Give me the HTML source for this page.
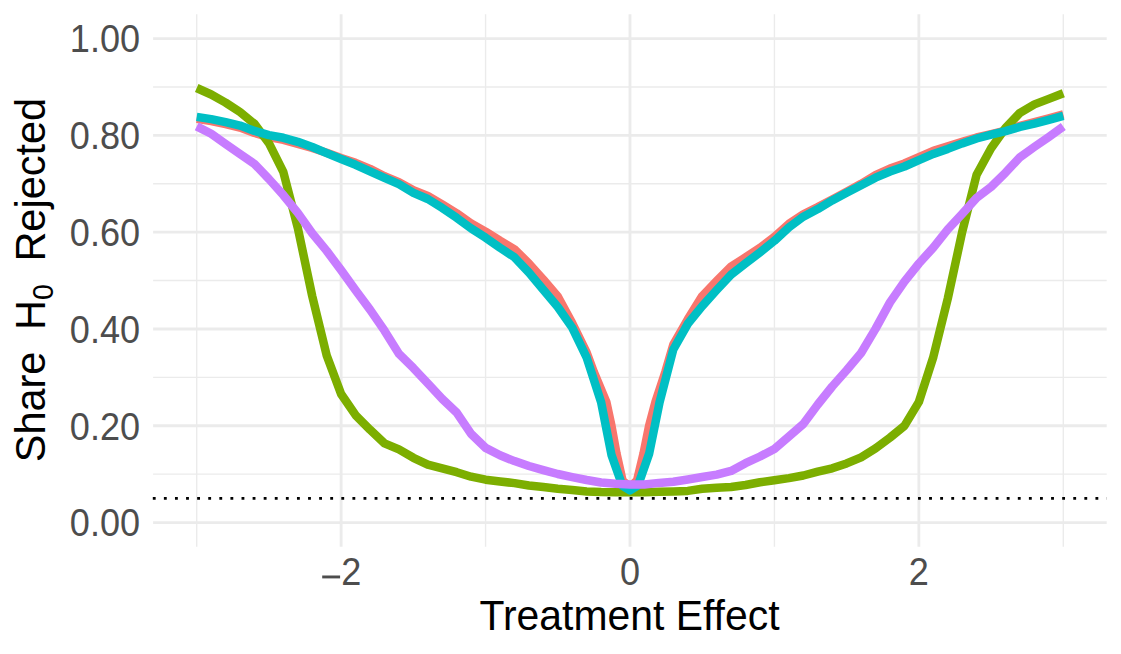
<!DOCTYPE html>
<html><head><meta charset="utf-8"><title>Chart</title>
<style>html,body{margin:0;padding:0;background:#fff;}body{width:1121px;height:654px;overflow:hidden;font-family:"Liberation Sans",sans-serif;}svg{display:block;}</style></head>
<body>
<svg width="1121" height="654" viewBox="0 0 1121 654">
<rect width="1121" height="654" fill="#ffffff"/>
<line x1="153.1" x2="1106.7" y1="474.15" y2="474.15" stroke="#EBEBEB" stroke-width="1.4"/>
<line x1="153.1" x2="1106.7" y1="377.35" y2="377.35" stroke="#EBEBEB" stroke-width="1.4"/>
<line x1="153.1" x2="1106.7" y1="280.55" y2="280.55" stroke="#EBEBEB" stroke-width="1.4"/>
<line x1="153.1" x2="1106.7" y1="183.75" y2="183.75" stroke="#EBEBEB" stroke-width="1.4"/>
<line x1="153.1" x2="1106.7" y1="86.95" y2="86.95" stroke="#EBEBEB" stroke-width="1.4"/>
<line y1="14.3" y2="546.75" x1="196.71" x2="196.71" stroke="#EBEBEB" stroke-width="1.4"/>
<line y1="14.3" y2="546.75" x1="485.57" x2="485.57" stroke="#EBEBEB" stroke-width="1.4"/>
<line y1="14.3" y2="546.75" x1="774.43" x2="774.43" stroke="#EBEBEB" stroke-width="1.4"/>
<line y1="14.3" y2="546.75" x1="1063.29" x2="1063.29" stroke="#EBEBEB" stroke-width="1.4"/>
<line x1="153.1" x2="1106.7" y1="522.55" y2="522.55" stroke="#EBEBEB" stroke-width="2.85"/>
<line x1="153.1" x2="1106.7" y1="425.75" y2="425.75" stroke="#EBEBEB" stroke-width="2.85"/>
<line x1="153.1" x2="1106.7" y1="328.95" y2="328.95" stroke="#EBEBEB" stroke-width="2.85"/>
<line x1="153.1" x2="1106.7" y1="232.15" y2="232.15" stroke="#EBEBEB" stroke-width="2.85"/>
<line x1="153.1" x2="1106.7" y1="135.35" y2="135.35" stroke="#EBEBEB" stroke-width="2.85"/>
<line x1="153.1" x2="1106.7" y1="38.55" y2="38.55" stroke="#EBEBEB" stroke-width="2.85"/>
<line y1="14.3" y2="546.75" x1="341.14" x2="341.14" stroke="#EBEBEB" stroke-width="2.85"/>
<line y1="14.3" y2="546.75" x1="630.00" x2="630.00" stroke="#EBEBEB" stroke-width="2.85"/>
<line y1="14.3" y2="546.75" x1="918.86" x2="918.86" stroke="#EBEBEB" stroke-width="2.85"/>
<path d="M196.7,118.9 L211.2,121.1 L225.6,124.1 L240.0,127.6 L254.5,132.9 L268.9,137.1 L283.4,139.8 L297.8,143.8 L312.2,148.0 L326.7,152.7 L341.1,158.0 L355.6,162.8 L370.0,168.8 L384.5,176.3 L398.9,182.1 L413.4,190.3 L427.8,196.0 L442.2,204.4 L456.7,213.3 L471.1,223.4 L485.6,231.7 L500.0,240.7 L514.5,249.3 L528.9,263.5 L543.3,279.5 L557.8,296.5 L572.2,323.0 L586.7,352.7 L593.8,372.0 L606.4,402.1 L611.5,425.9 L616.5,453.5 L622.6,480.6 L630.0,487.0 L637.1,480.2 L643.5,453.5 L649.1,425.9 L655.4,402.1 L665.3,372.0 L673.3,344.7 L687.8,319.3 L702.2,296.1 L716.7,281.0 L731.1,266.6 L745.5,257.4 L760.0,247.8 L774.4,236.8 L788.9,223.8 L803.3,214.2 L817.8,207.1 L832.2,199.4 L846.6,191.8 L861.1,183.8 L875.5,175.2 L890.0,168.5 L904.4,163.5 L918.9,157.2 L933.3,150.9 L947.8,146.4 L962.2,141.9 L976.6,137.5 L991.1,134.2 L1005.5,130.6 L1020.0,125.9 L1034.4,122.1 L1048.8,118.3 L1063.3,114.4" fill="none" stroke="#F8766D" stroke-width="8.5" stroke-linejoin="round" stroke-linecap="butt"/>
<path d="M196.7,88.0 L211.2,94.5 L225.6,102.6 L240.0,112.0 L254.5,123.9 L268.9,143.2 L283.4,172.2 L297.8,227.9 L312.2,296.0 L326.7,355.5 L341.1,394.0 L355.6,415.2 L370.0,429.7 L384.5,443.3 L398.9,449.4 L413.4,457.8 L427.8,464.6 L442.2,468.3 L456.7,472.2 L471.1,476.7 L485.6,479.7 L500.0,481.5 L514.5,483.1 L528.9,485.5 L543.3,487.0 L557.8,488.7 L572.2,490.0 L586.7,491.4 L601.1,492.1 L615.6,492.3 L630.0,492.3 L644.4,492.3 L658.9,491.8 L673.3,491.5 L687.8,490.9 L702.2,488.8 L716.7,487.7 L731.1,487.0 L745.5,485.0 L760.0,482.3 L774.4,480.2 L788.9,478.1 L803.3,475.5 L817.8,471.6 L832.2,468.3 L846.6,463.4 L861.1,457.3 L875.5,448.4 L890.0,437.6 L904.4,425.9 L918.9,401.9 L933.3,357.1 L947.8,298.5 L962.2,231.9 L976.6,174.8 L991.1,148.3 L1005.5,128.0 L1020.0,112.8 L1034.4,104.4 L1048.8,98.9 L1063.3,93.2" fill="none" stroke="#7CAE00" stroke-width="8.5" stroke-linejoin="round" stroke-linecap="butt"/>
<path d="M196.7,116.9 L211.2,119.1 L225.6,122.1 L240.0,125.6 L254.5,130.9 L268.9,135.1 L283.4,137.8 L297.8,141.8 L312.2,147.0 L326.7,153.2 L341.1,159.0 L355.6,164.8 L370.0,171.3 L384.5,177.8 L398.9,184.1 L413.4,192.8 L427.8,199.0 L442.2,207.9 L456.7,217.8 L471.1,228.4 L485.6,237.7 L500.0,247.7 L514.5,257.3 L528.9,272.5 L543.3,289.7 L557.8,307.0 L572.2,327.6 L586.7,357.7 L601.1,402.1 L611.5,455.0 L622.3,485.6 L630.0,490.4 L638.0,485.5 L649.2,453.5 L659.6,402.1 L673.3,349.5 L687.8,323.8 L702.2,306.1 L716.7,290.0 L731.1,274.6 L745.5,263.4 L760.0,252.3 L774.4,240.8 L788.9,227.3 L803.3,216.7 L817.8,209.1 L832.2,200.4 L846.6,192.8 L861.1,185.3 L875.5,177.7 L890.0,171.5 L904.4,166.5 L918.9,160.2 L933.3,153.9 L947.8,148.9 L962.2,143.4 L976.6,138.5 L991.1,134.7 L1005.5,131.1 L1020.0,126.9 L1034.4,123.6 L1048.8,119.8 L1063.3,115.9" fill="none" stroke="#00BFC4" stroke-width="8.5" stroke-linejoin="round" stroke-linecap="butt"/>
<path d="M196.7,126.4 L211.2,133.8 L225.6,143.9 L240.0,153.9 L254.5,164.0 L268.9,179.0 L283.4,195.2 L297.8,212.9 L312.2,233.3 L326.7,250.9 L341.1,270.1 L355.6,290.3 L370.0,309.6 L384.5,330.7 L398.9,353.7 L413.4,368.1 L427.8,383.4 L442.2,398.9 L456.7,412.6 L471.1,433.9 L485.6,447.9 L500.0,455.3 L514.5,461.1 L528.9,466.0 L543.3,470.1 L557.8,474.0 L572.2,477.1 L586.7,480.0 L601.1,482.5 L615.6,483.7 L630.0,484.5 L644.4,484.5 L658.9,482.9 L673.3,481.7 L687.8,479.5 L702.2,477.0 L716.7,474.6 L731.1,470.9 L745.5,463.2 L760.0,456.5 L774.4,448.9 L788.9,436.6 L803.3,424.0 L817.8,404.5 L832.2,386.5 L846.6,370.3 L861.1,353.0 L875.5,328.9 L890.0,302.4 L904.4,281.6 L918.9,263.5 L933.3,247.6 L947.8,229.3 L962.2,213.8 L976.6,197.8 L991.1,186.9 L1005.5,172.7 L1020.0,157.2 L1034.4,146.9 L1048.8,136.9 L1063.3,126.5" fill="none" stroke="#C77CFF" stroke-width="8.5" stroke-linejoin="round" stroke-linecap="butt"/>
<line x1="152.8" x2="1106.7" y1="498.4" y2="498.4" stroke="#000" stroke-width="2.85" stroke-dasharray="2.85 8.240"/>
<text transform="translate(140.1,536.35) scale(1,1.066)" text-anchor="end" font-size="36.1" fill="#4D4D4D" font-family="Liberation Sans, sans-serif">0.00</text>
<text transform="translate(140.1,439.55) scale(1,1.066)" text-anchor="end" font-size="36.1" fill="#4D4D4D" font-family="Liberation Sans, sans-serif">0.20</text>
<text transform="translate(140.1,342.75) scale(1,1.066)" text-anchor="end" font-size="36.1" fill="#4D4D4D" font-family="Liberation Sans, sans-serif">0.40</text>
<text transform="translate(140.1,245.95) scale(1,1.066)" text-anchor="end" font-size="36.1" fill="#4D4D4D" font-family="Liberation Sans, sans-serif">0.60</text>
<text transform="translate(140.1,149.15) scale(1,1.066)" text-anchor="end" font-size="36.1" fill="#4D4D4D" font-family="Liberation Sans, sans-serif">0.80</text>
<text transform="translate(140.1,52.35) scale(1,1.066)" text-anchor="end" font-size="36.1" fill="#4D4D4D" font-family="Liberation Sans, sans-serif">1.00</text>
<text transform="translate(630.00,585.3) scale(1,1.066)" text-anchor="middle" font-size="36.1" fill="#4D4D4D" font-family="Liberation Sans, sans-serif">0</text>
<text transform="translate(918.86,585.3) scale(1,1.066)" text-anchor="middle" font-size="36.1" fill="#4D4D4D" font-family="Liberation Sans, sans-serif">2</text>
<text transform="translate(341.2,585.3) scale(1,1.066)" text-anchor="start" font-size="36.1" fill="#4D4D4D" font-family="Liberation Sans, sans-serif">2</text>
<rect x="322.2" y="575.5" width="17.9" height="2.9" fill="#4D4D4D"/>
<text transform="translate(629.5,630) scale(1,1.045)" text-anchor="middle" font-size="40.9" fill="#000" font-family="Liberation Sans, sans-serif">Treatment Effect</text>
<g transform="translate(45.3,0) rotate(-90) scale(1,1.045)" font-size="41.5" fill="#000" font-family="Liberation Sans, sans-serif">
<text x="-462.3" y="0">Share</text>
<text x="-329.9" y="0">H</text>
<text x="-300.0" y="7.0" font-size="28.5">0</text>
<text x="-261.6" y="0">Rejected</text>
</g>
</svg>
</body></html>
